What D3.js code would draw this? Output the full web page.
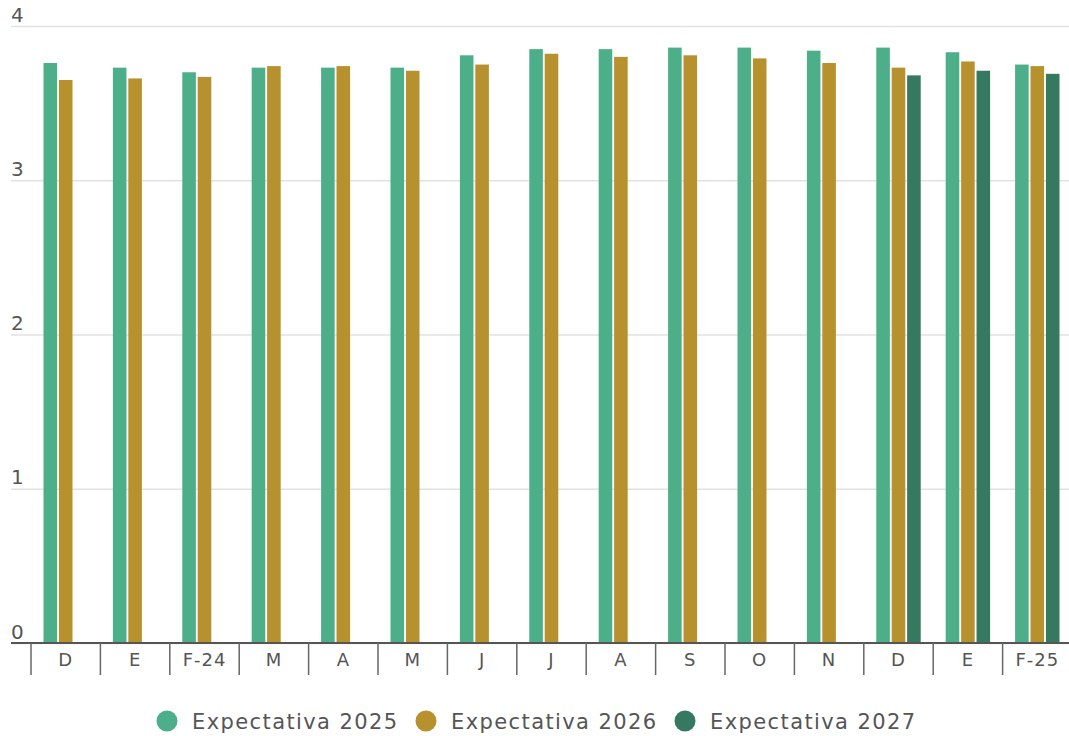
<!DOCTYPE html>
<html>
<head>
<meta charset="utf-8">
<script src="https://cdn.jsdelivr.net/npm/d3@7"></script>
<style>
  body { margin: 0; background: #fff; }
  text { font-family: "DejaVu Sans", sans-serif; fill: #555; }
</style>
</head>
<body>
<div id="chart"></div>
<script>
const months = ["D", "E", "F-24", "M", "A", "M", "J", "J", "A", "S", "O", "N", "D", "E", "F-25"];
const series = ["Expectativa 2025", "Expectativa 2026", "Expectativa 2027"];
const exp2025 = [3.76, 3.73, 3.70, 3.73, 3.73, 3.73, 3.81, 3.85, 3.85, 3.86, 3.86, 3.84, 3.86, 3.83, 3.75];
const exp2026 = [3.65, 3.66, 3.67, 3.74, 3.74, 3.71, 3.75, 3.82, 3.80, 3.81, 3.79, 3.76, 3.73, 3.77, 3.74];
const exp2027 = [null, null, null, null, null, null, null, null, null, null, null, null, 3.68, 3.71, 3.69];
const yTicks = [0, 1, 2, 3, 4];
const colors = ["#4caf8a", "#b8912f", "#357a60"];

const width = 1069, height = 736;
const marginLeft = 11, plotLeft = 31, plotRight = 1072, plotTop = 26, plotBottom = 643;

const svg = d3.select("#chart").append("svg")
    .attr("width", width)
    .attr("height", height);

let data = months.map((m, i) => ({
    key: i,
    month: m,
    values: [exp2025[i], exp2026[i], exp2027[i]]
}));

let y = d3.scaleLinear().domain([0, 4]).range([plotBottom, plotTop]);

let x0 = d3.scaleBand()
    .domain(data.map(d => d.key))
    .range([plotLeft, plotRight])
    .paddingInner(0.36)
    .paddingOuter(0.18);

let x1 = d3.scaleBand()
    .domain(d3.range(series.length))
    .range([0, x0.bandwidth()])
    .paddingInner(0.12);

// grid lines + y labels
let yAxis = svg.append("g")
    .attr("transform", `translate(${marginLeft},0)`)
    .call(d3.axisRight(y)
        .tickValues(yTicks)
        .tickSize(width - marginLeft)
        .tickFormat(d3.format("d")));
yAxis.select(".domain").remove();
yAxis.selectAll(".tick line")
    .attr("stroke", "#e2e2e2")
    .attr("stroke-width", 1.5);
yAxis.selectAll(".tick text")
    .attr("x", 0)
    .attr("dy", -5)
    .attr("text-anchor", "start")
    .style("font-size", "20px")
    .style("fill", "#555");

// bars
let groups = svg.append("g").selectAll("g")
    .data(data)
    .enter()
    .append("g")
    .attr("transform", d => `translate(${x0(d.key)},0)`);

groups.selectAll("rect")
    .data(d => d.values.map((v, j) => ({ j: j, v: v })).filter(e => e.v !== null))
    .enter()
    .append("rect")
    .attr("x", e => x1(e.j))
    .attr("width", x1.bandwidth())
    .attr("y", e => y(e.v))
    .attr("height", e => y(0) - y(e.v))
    .attr("fill", e => colors[e.j]);

// baseline
svg.append("line")
    .attr("x1", marginLeft).attr("x2", width)
    .attr("y1", y(0)).attr("y2", y(0))
    .attr("stroke", "#555")
    .attr("stroke-width", 2);

// category axis
let xAxis = svg.append("g")
    .attr("transform", `translate(0,${y(0)})`)
    .call(d3.axisBottom(x0).tickSize(0).tickFormat(k => months[k]));
xAxis.select(".domain").remove();
xAxis.selectAll(".tick text")
    .attr("dy", 0)
    .attr("y", 23)
    .style("font-size", "18px")
    .style("letter-spacing", "1px")
    .style("fill", "#555");

// dividers at band edges
let step = x0.step();
svg.append("g").selectAll("line")
    .data(data)
    .enter()
    .append("line")
    .attr("x1", d => x0(d.key) + x0.bandwidth() / 2 - step / 2)
    .attr("x2", d => x0(d.key) + x0.bandwidth() / 2 - step / 2)
    .attr("y1", y(0))
    .attr("y2", y(0) + 32)
    .attr("stroke", "#666")
    .attr("stroke-width", 1.5);

// legend
let legendX = [167, 426, 685];
let legend = svg.append("g").selectAll("g")
    .data(series)
    .enter()
    .append("g")
    .attr("transform", (d, i) => `translate(${legendX[i]},721)`);

legend.append("circle")
    .attr("r", 10.5)
    .attr("fill", (d, i) => colors[i]);

legend.append("text")
    .attr("x", 25)
    .attr("y", 7.5)
    .style("font-size", "21px")
    .style("letter-spacing", "1.4px")
    .style("fill", "#555")
    .text(d => d);
</script>
</body>
</html>
